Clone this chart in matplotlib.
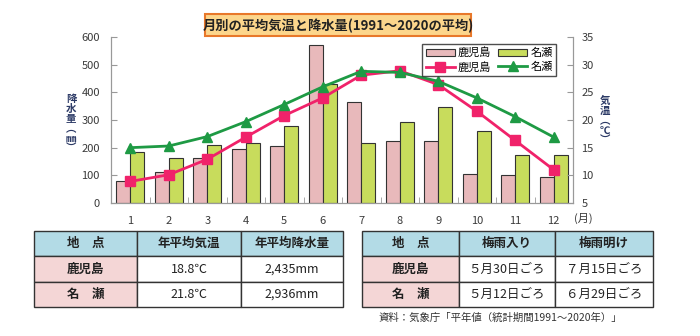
import matplotlib.pyplot as plt
from matplotlib.patches import Rectangle
import numpy as np

plt.rcParams['font.family'] = ['Noto Sans CJK JP', 'DejaVu Sans']

months = list(range(1, 13))
rain_kagoshima = [78, 113, 161, 195, 205, 570, 365, 224, 223, 105, 103, 93]
rain_naze = [185, 162, 210, 218, 280, 429, 217, 293, 348, 262, 174, 172]
temp_kagoshima = [8.9, 10.1, 12.9, 16.9, 20.8, 24.0, 28.1, 28.9, 26.4, 21.6, 16.3, 11.0]
temp_naze = [15.0, 15.3, 17.0, 19.7, 22.8, 26.0, 28.8, 28.6, 27.0, 24.0, 20.6, 16.9]

title = '月別の平均気温と降水量(1991～2020の平均)'

table1_header = ['地　点', '年平均気温', '年平均降水量']
table1_rows = [['鹿児島', '18.8℃', '2,435mm'],
               ['名　瀬', '21.8℃', '2,936mm']]
table2_header = ['地　点', '梅雨入り', '梅雨明け']
table2_rows = [['鹿児島', '５月30日ごろ', '７月15日ごろ'],
               ['名　瀬', '５月12日ごろ', '６月29日ごろ']]
source = '資料：気象庁「平年値（統計期間1991～2020年）」'

pink = '#e8b9bb'
green = '#c8dc5c'
line_pink = '#f0226a'
line_green = '#1e9a44'
txt = '#3a3a3a'

fig = plt.figure(figsize=(7, 3.36), dpi=100)

# chart
ax = fig.add_axes([111 / 700, 1 - 203 / 336, 462 / 700, 166 / 336])
x = np.arange(len(months))
w = 0.36
ax.bar(x - w / 2, rain_kagoshima, w, color=pink, edgecolor='#333333', lw=0.8, label='鹿児島')
ax.bar(x + w / 2, rain_naze, w, color=green, edgecolor='#333333', lw=0.8, label='名瀬')
ax.set_ylim(0, 600)
ax.set_xlim(-0.5, 11.5)
ax.set_yticks(range(0, 601, 100))
ax.set_xticks(x)
ax.set_xticklabels([str(m) for m in months])
ax.set_xticks(np.arange(-0.5, 12, 1), minor=True)
ax.tick_params(axis='x', which='major', length=0, pad=9, labelsize=8, colors=txt)
ax.tick_params(axis='x', which='minor', direction='in', length=4, color='#999999')
ax.tick_params(axis='y', direction='in', length=4, labelsize=8, colors=txt, color='#999999', pad=8)
for s in ['left', 'right', 'bottom']:
    ax.spines[s].set_color('#999999')
ax.spines['top'].set_visible(False)

ax2 = ax.twinx()
lk, = ax2.plot(x, temp_kagoshima, color=line_pink, lw=2, marker='s', ms=7, label='鹿児島')
ln, = ax2.plot(x, temp_naze, color=line_green, lw=2, marker='^', ms=7, label='名瀬')
ax2.set_ylim(5, 35)
ax2.set_yticks(range(5, 36, 5))
ax2.tick_params(axis='y', direction='in', length=4, labelsize=8, colors=txt, color='#999999', pad=6)
for s in ['left', 'right', 'bottom']:
    ax2.spines[s].set_color('#999999')
ax2.spines['top'].set_visible(False)

h1, l1 = ax.get_legend_handles_labels()
leg = ax2.legend([h1[0], lk, h1[1], ln], ['鹿児島', '鹿児島', '名瀬', '名瀬'], ncol=2,
                 loc='upper right', bbox_to_anchor=(0.975, 0.99), fontsize=8, frameon=True,
                 fancybox=False, edgecolor='#222222', handlelength=2.6, handleheight=0.6,
                 columnspacing=0.6, handletextpad=0.3, borderpad=0.3, labelspacing=0.3)
leg.get_frame().set_linewidth(1)

# overlay for title, axis labels, tables
ov = fig.add_axes([0, 0, 1, 1], facecolor='none')
ov.set_xlim(0, 700)
ov.set_ylim(336, 0)
ov.axis('off')

ov.add_patch(Rectangle((205, 14), 266, 22, facecolor='#fcd68c', edgecolor='#e8782a', lw=1.5))
ov.text(338, 25.5, title, ha='center', va='center', fontsize=9.5, fontweight='bold', color='#222222')

ov.text(71, 124, '降\n水\n量\n︵\n㎜\n︶', ha='center', va='center', fontsize=7.5,
        linespacing=1.0, color='#2c3a66', fontweight='bold')
ov.text(605, 121, '気\n温\n︵\n℃\n︶', ha='center', va='center', fontsize=7.5,
        linespacing=1.0, color='#2c3a66', fontweight='bold')
ov.text(583, 218, '(月)', ha='center', va='center', fontsize=8, color=txt)


def draw_table(cols, header, rows):
    ys = [231, 256, 282, 307]
    for r in range(3):
        for c in range(3):
            if r == 0:
                fc = '#b3dbe6'
            elif c == 0:
                fc = '#f4d6d6'
            else:
                fc = 'white'
            ov.add_patch(Rectangle((cols[c], ys[r]), cols[c + 1] - cols[c], ys[r + 1] - ys[r],
                                   facecolor=fc, edgecolor='#333333', lw=1))
            label = header[c] if r == 0 else rows[r - 1][c]
            ov.text((cols[c] + cols[c + 1]) / 2, (ys[r] + ys[r + 1]) / 2, label,
                    ha='center', va='center', fontsize=9, color='#222222',
                    fontweight='bold' if (r == 0 or c == 0) else 'normal')


draw_table([34, 137, 241, 343], table1_header, table1_rows)
draw_table([362, 459, 555, 653], table2_header, table2_rows)
ov.text(379, 318, source, ha='left', va='center', fontsize=7.5, color='#333333')

fig.savefig('out.png', dpi=100)
